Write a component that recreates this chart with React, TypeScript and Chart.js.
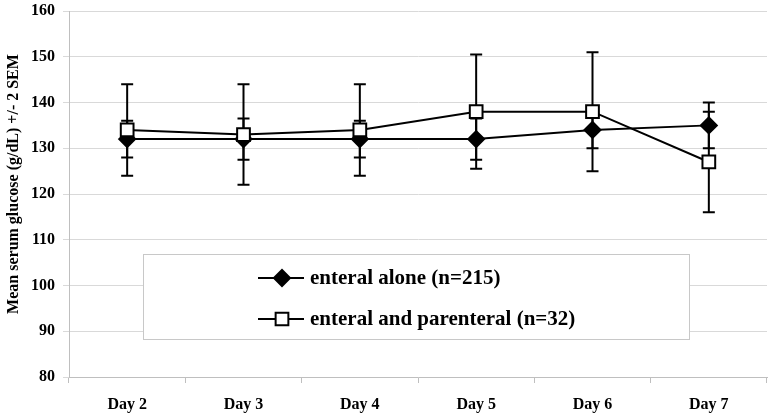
import React, { useEffect, useRef } from "react";
import { Chart, registerables } from "chart.js";

Chart.register(...registerables);

const categories = ["Day 2", "Day 3", "Day 4", "Day 5", "Day 6", "Day 7"];
const enteralLabel = "enteral alone (n=215)";
const enteralMean = [132, 132, 132, 132, 134, 135];
const enteralErr = [4, 4.5, 4, 4.5, 4, 5];
const parenteralLabel = "enteral and parenteral (n=32)";
const parenteralMean = [134, 133, 134, 138, 138, 127];
const parenteralErr = [10, 11, 10, 12.5, 13, 11];
const yTitle = "Mean serum glucose (g/dL) +/- 2 SEM";
const yMin = 80;
const yMax = 160;
const yStep = 10;

const FONT = "'Liberation Serif', 'Times New Roman', serif";

const errorBarPlugin = {
  id: "errorBars",
  beforeDatasetsDraw(chart: any) {
    const { ctx, scales } = chart;
    const x = scales.x;
    const y = scales.y;
    const sets = [
      { mean: enteralMean, err: enteralErr },
      { mean: parenteralMean, err: parenteralErr },
    ];
    ctx.save();
    ctx.strokeStyle = "#000";
    ctx.lineWidth = 2;
    sets.forEach((s) => {
      s.mean.forEach((m, i) => {
        const px = x.getPixelForValue(i);
        const top = y.getPixelForValue(m + s.err[i]);
        const bot = y.getPixelForValue(m - s.err[i]);
        ctx.beginPath();
        ctx.moveTo(px, top);
        ctx.lineTo(px, bot);
        ctx.moveTo(px - 6, top);
        ctx.lineTo(px + 6, top);
        ctx.moveTo(px - 6, bot);
        ctx.lineTo(px + 6, bot);
        ctx.stroke();
      });
    });
    ctx.restore();
  },
};

function drawMarker(ctx: CanvasRenderingContext2D, style: string, r: number, x: number, y: number, fill: string) {
  ctx.beginPath();
  if (style === "rectRot") {
    ctx.moveTo(x - r, y);
    ctx.lineTo(x, y - r);
    ctx.lineTo(x + r, y);
    ctx.lineTo(x, y + r);
    ctx.closePath();
  } else {
    const s = Math.SQRT1_2 * r;
    ctx.rect(x - s, y - s, 2 * s, 2 * s);
  }
  ctx.fillStyle = fill;
  ctx.fill();
  ctx.strokeStyle = "#000";
  ctx.lineWidth = 2;
  ctx.stroke();
}

const legendBoxPlugin = {
  id: "legendBox",
  afterDatasetsDraw(chart: any) {
    const { ctx, chartArea } = chart;
    const left = chartArea.left + 74;
    const top = chartArea.top + 243;
    const w = 546;
    const h = 85;
    ctx.save();
    ctx.fillStyle = "#ffffff";
    ctx.fillRect(left, top, w, h);
    ctx.strokeStyle = "#c8c8c8";
    ctx.lineWidth = 1;
    ctx.strokeRect(left + 0.5, top + 0.5, w, h);
    const items = [
      { text: enteralLabel, style: "rectRot", fill: "#000", radius: 8 },
      { text: parenteralLabel, style: "rect", fill: "#fff", radius: 9 },
    ];
    items.forEach((it, k) => {
      const cy = top + 24 + k * 41;
      const lx = left + 115;
      ctx.strokeStyle = "#000";
      ctx.lineWidth = 2;
      ctx.beginPath();
      ctx.moveTo(lx, cy);
      ctx.lineTo(lx + 46, cy);
      ctx.stroke();
      drawMarker(ctx, it.style, it.radius, lx + 24, cy, it.fill);
      ctx.fillStyle = "#000";
      ctx.font = `bold 21px ${FONT}`;
      ctx.textBaseline = "middle";
      ctx.textAlign = "left";
      ctx.fillText(it.text, lx + 52, cy + 1);
    });
    ctx.restore();
  },
};

const yTitlePlugin = {
  id: "yTitle",
  afterDraw(chart: any) {
    const { ctx, chartArea } = chart;
    ctx.save();
    ctx.translate(14, chartArea.top + 173);
    ctx.rotate(-Math.PI / 2);
    ctx.fillStyle = "#000";
    ctx.font = `bold 16px ${FONT}`;
    ctx.textAlign = "center";
    ctx.textBaseline = "middle";
    ctx.fillText(yTitle, 0, 0);
    ctx.restore();
  },
};

export default function App() {
  const ref = useRef<HTMLCanvasElement | null>(null);
  useEffect(() => {
    if (!ref.current) return;
    const chart = new Chart(ref.current, {
      type: "line",
      data: {
        labels: categories,
        datasets: [
          {
            label: enteralLabel,
            data: enteralMean,
            borderColor: "#000",
            borderWidth: 2,
            backgroundColor: "#000",
            pointStyle: "rectRot",
            pointRadius: 8,
            pointBorderWidth: 2,
            pointBorderColor: "#000",
            pointBackgroundColor: "#000",
            tension: 0,
            order: 1,
          },
          {
            label: parenteralLabel,
            data: parenteralMean,
            borderColor: "#000",
            borderWidth: 2,
            backgroundColor: "#fff",
            pointStyle: "rect",
            pointRadius: 9,
            pointBorderWidth: 2,
            pointBorderColor: "#000",
            pointBackgroundColor: "#fff",
            tension: 0,
            order: 0,
          },
        ],
      },
      options: {
        animation: false,
        responsive: true,
        maintainAspectRatio: false,
        layout: { padding: { top: 11, right: 12, left: 0, bottom: 0 } },
        plugins: {
          legend: { display: false },
          tooltip: { enabled: false },
        },
        scales: {
          x: {
            type: "category",
            offset: true,
            grid: {
              display: true,
              drawOnChartArea: false,
              offset: true,
              tickLength: 6,
              color: "#bfbfbf",
            },
            border: { color: "#bfbfbf", width: 1 },
            ticks: {
              color: "#000",
              padding: 12,
              font: { family: FONT, size: 16, weight: "bold" },
            },
            afterFit(scale: any) {
              scale.height = 43;
              scale.paddingLeft = 0;
              scale.paddingRight = 0;
            },
          },
          y: {
            min: yMin,
            max: yMax,
            ticks: {
              stepSize: yStep,
              color: "#000",
              padding: 8,
              font: { family: FONT, size: 16, weight: "bold" },
            },
            grid: { color: "#d9d9d9", tickLength: 6, lineWidth: 1 },
            border: { color: "#bfbfbf", width: 1 },
            title: { display: false },
            afterFit(scale: any) {
              scale.width = 69;
              scale.paddingTop = 0;
              scale.paddingBottom = 0;
            },
          },
        },
      },
      plugins: [errorBarPlugin, legendBoxPlugin, yTitlePlugin],
    });
    return () => chart.destroy();
  }, []);
  return (
    <div style={{ position: "fixed", left: 0, top: 0, width: 779, height: 420, background: "#fff" }}>
      <canvas ref={ref} />
    </div>
  );
}
